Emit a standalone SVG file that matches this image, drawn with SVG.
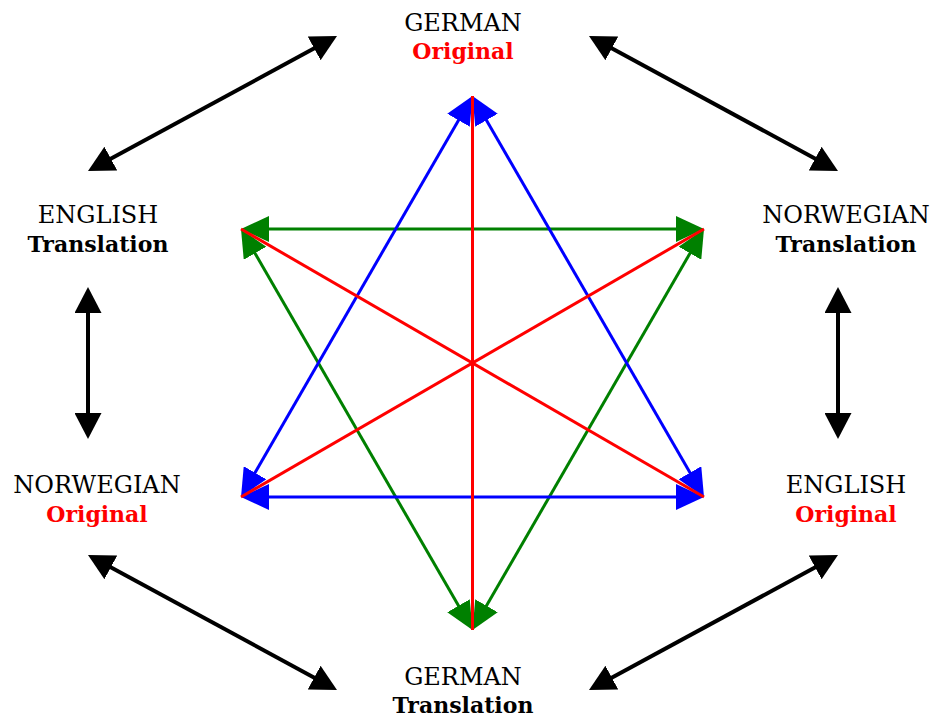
<svg xmlns="http://www.w3.org/2000/svg" width="934" height="718" viewBox="0 0 934 718">
<style>
  text { font-family: "DejaVu Serif", "Liberation Serif", serif; font-size: 24px; text-anchor: middle; }
  .lang { fill: #000; }
  .orig { fill: #ff0000; font-weight: bold; font-size: 22px; }
  .trans { fill: #000; font-weight: bold; font-size: 22px; }
  .blk { stroke: #000; stroke-width: 4; fill: none; marker-start: url(#ak); marker-end: url(#ak); }
  .blu { stroke: #0000ff; stroke-width: 3; fill: none; marker-start: url(#ab); marker-end: url(#ab); }
  .grn { stroke: #008000; stroke-width: 3; fill: none; marker-start: url(#ag); marker-end: url(#ag); }
  .red { stroke: #ff0000; stroke-width: 3; fill: none; }
</style>
<defs>
  <marker id="ak" viewBox="0 0 26 27" refX="18" refY="13.5" markerWidth="26" markerHeight="27" markerUnits="userSpaceOnUse" orient="auto-start-reverse"><path d="M0,0 L26,13.5 L0,27 z" fill="#000"/></marker>
  <marker id="ab" viewBox="0 0 28 26" refX="18" refY="13" markerWidth="28" markerHeight="26" markerUnits="userSpaceOnUse" orient="auto-start-reverse"><path d="M0,0 L28,13 L0,26 z" fill="#0000ff"/></marker>
  <marker id="ag" viewBox="0 0 28 26" refX="18" refY="13" markerWidth="28" markerHeight="26" markerUnits="userSpaceOnUse" orient="auto-start-reverse"><path d="M0,0 L28,13 L0,26 z" fill="#008000"/></marker>
</defs>

<g id="connectors">
  <path class="blk" d="M95.03,167.19 L329.97,39.81"/>
  <path class="blk" d="M596.03,39.81 L830.97,167.19"/>
  <path class="blk" d="M88,295 L88,431"/>
  <path class="blk" d="M838,295 L838,431"/>
  <path class="blk" d="M95.03,558.81 L329.97,686.19"/>
  <path class="blk" d="M596.03,686.19 L830.97,558.81"/>

  <path class="grn" d="M467.5,621.34 L246,237.66"/>
  <path class="grn" d="M477.5,621.34 L699,237.66"/>
  <path class="grn" d="M251,229 L694,229"/>

  <path class="blu" d="M467.5,104.66 L246,488.34"/>
  <path class="blu" d="M477.5,104.66 L699,488.34"/>
  <path class="blu" d="M251,497 L694,497"/>

  <path class="red" d="M472.5,96 L472.5,630"/>
  <path class="red" d="M241,229 L704,497"/>
  <path class="red" d="M704,229 L241,497"/>
</g>

<g id="german-original">
  <text class="lang" x="463" y="31">GERMAN</text>
  <text class="orig" x="463" y="59">Original</text>
</g>
<g id="english-translation">
  <text class="lang" x="98" y="223">ENGLISH</text>
  <text class="trans" x="98" y="252">Translation</text>
</g>
<g id="norwegian-translation">
  <text class="lang" x="846" y="223">NORWEGIAN</text>
  <text class="trans" x="846" y="252">Translation</text>
</g>
<g id="norwegian-original">
  <text class="lang" x="97" y="493">NORWEGIAN</text>
  <text class="orig" x="97" y="522">Original</text>
</g>
<g id="english-original">
  <text class="lang" x="846" y="493">ENGLISH</text>
  <text class="orig" x="846" y="522">Original</text>
</g>
<g id="german-translation">
  <text class="lang" x="463" y="685">GERMAN</text>
  <text class="trans" x="463" y="713">Translation</text>
</g>
</svg>
